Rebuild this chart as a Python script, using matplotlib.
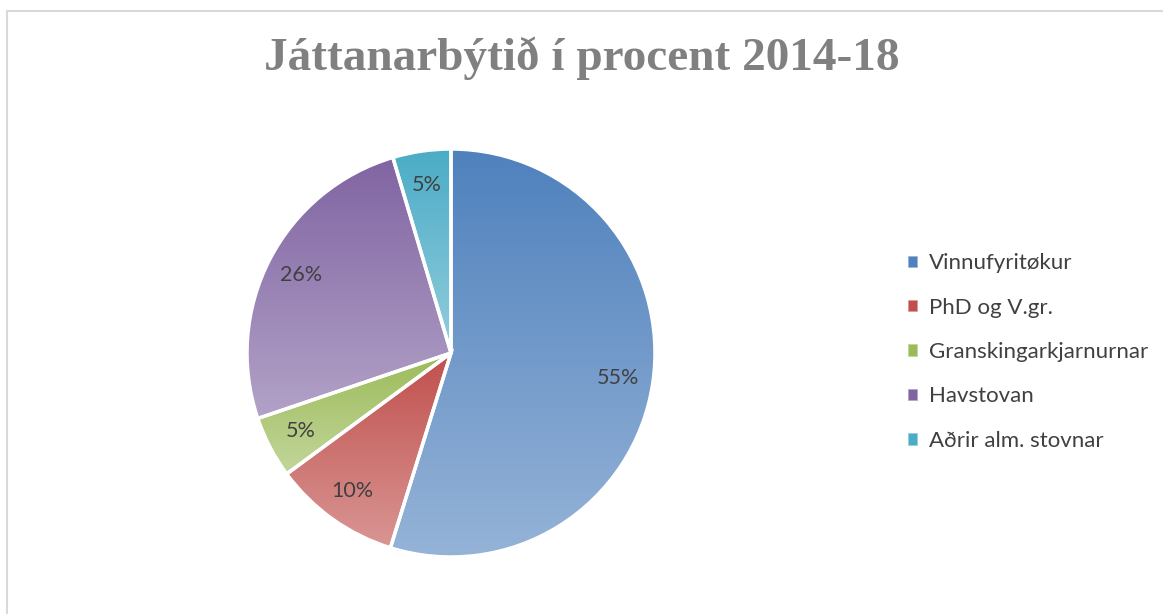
import numpy as np
import matplotlib
matplotlib.use("Agg")
import matplotlib.pyplot as plt
from matplotlib.colors import LinearSegmentedColormap
from matplotlib.patches import Rectangle
from matplotlib.lines import Line2D

title = "Játtanarbýtið í procent 2014-18"
categories = ["Vinnufyritøkur", "PhD og V.gr.", "Granskingarkjarnurnar", "Havstovan", "Aðrir alm. stovnar"]
values = [54.8, 10.1, 4.9, 25.6, 4.6]
top_colors = ["#4f81bd", "#c0504d", "#9bbb59", "#8064a2", "#4bacc6"]
bottom_colors = ["#95b3d7", "#d99694", "#c3d69b", "#b2a2c7", "#93cddd"]

W, H = 1163, 614
fig = plt.figure(figsize=(W / 100, H / 100), dpi=100)
fig.patch.set_facecolor("white")

# frame lines
fig.add_artist(Line2D([6.5 / W, 6.5 / W], [0, 1 - 10.5 / H], color="#d9d9d9", lw=1.5, transform=fig.transFigure))
fig.add_artist(Line2D([6.5 / W, 1], [1 - 10.5 / H, 1 - 10.5 / H], color="#d9d9d9", lw=1.5, transform=fig.transFigure))

fig.text(0.5, 1 - 58 / H, title, ha="center", va="center", fontsize=34, fontweight="bold",
         color="#808080", family=["Liberation Serif", "DejaVu Serif"])

cx, cy, r = 451, 353, 204
ax = fig.add_axes([(cx - r) / W, (H - cy - r) / H, 2 * r / W, 2 * r / H])
wedges, texts, autotexts = ax.pie(values, startangle=90, counterclock=False, radius=1,
                                  autopct="%.0f%%", pctdistance=0.83,
                                  wedgeprops=dict(edgecolor="white", linewidth=2.5),
                                  textprops=dict(fontsize=15.5, color="#404040", family=["Lato", "DejaVu Sans"]))
ax.set_xlim(-1, 1)
ax.set_ylim(-1, 1)
ax.set_aspect("equal")
ax.axis("off")

for w, tc, bc in zip(wedges, top_colors, bottom_colors):
    ext = w.get_window_extent().transformed(ax.transData.inverted())
    cmap = LinearSegmentedColormap.from_list("g", [bc, tc])
    grad = np.linspace(0, 1, 256).reshape(-1, 1)
    im = ax.imshow(grad, cmap=cmap, extent=[ext.x0, ext.x1, ext.y0, ext.y1], origin="lower",
                   aspect="auto", zorder=0.5)
    im.set_clip_path(w)
    w.set_facecolor("none")
    w.set_zorder(1)

ax.set_xlim(-1, 1)
ax.set_ylim(-1, 1)
for t in autotexts:
    t.set_zorder(3)

# legend
handles = [Rectangle((0, 0), 1, 1, facecolor=tc, edgecolor=bc, lw=0.5) for tc, bc in zip(top_colors, bottom_colors)]
leg = fig.legend(handles, categories, loc="center left", bbox_to_anchor=(908 / W, 1 - 352 / H),
                 frameon=False, labelspacing=1.1, handlelength=0.4, handleheight=0.4,
                 handletextpad=0.55, borderpad=0, borderaxespad=0,
                 prop=dict(family=["Lato", "DejaVu Sans"], size=16))
for t in leg.get_texts():
    t.set_color("#404040")

fig.savefig("out.png", dpi=100, facecolor="white")
